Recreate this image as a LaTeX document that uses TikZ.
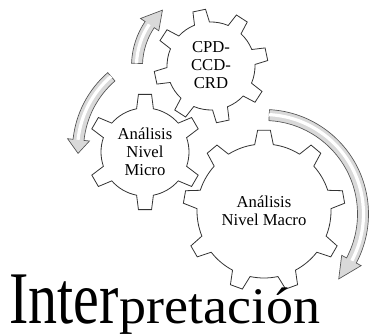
\documentclass[tikz,border=0pt]{standalone}
\usepackage{fontspec}
\setmainfont{Liberation Serif}

\tikzset{
  gearline/.style={draw=black!80,line width=0.6pt,fill=white},
  gearlabel/.style={align=center,font=\fontsize{12.5}{13.5}\selectfont,inner sep=0pt},
  arrowbody/.style={draw=gray!65!black,line width=0.5pt,fill=gray!30},
  arrowshine/.style={white,line width=2.4pt},
  wordart/.style={font=\fontsize{43.5}{44}\selectfont,inner sep=0pt,anchor=base west},
}

% gear: centre, teeth, first tooth angle, tip radius, root radius, tip half angle, root half angle
\newcommand{\drawgear}[7]{%
  \pgfmathsetmacro{\gstep}{360/#2}
  \draw[gearline,shift={#1}] ({#3-#7}:#5)
    \foreach \k in {1,...,#2}{
      -- ({#3+(\k-1)*\gstep-#6}:#4) -- ({#3+(\k-1)*\gstep+#6}:#4)
      -- ({#3+(\k-1)*\gstep+#7}:#5)
      arc[start angle={#3+(\k-1)*\gstep+#7},end angle={#3+\k*\gstep-#7},radius=#5]
    } -- cycle;
}

% bent block arrow: centre, radius, tail angle, head angle, tip angle, half width
\newcommand{\bentarrow}[6]{%
  \draw[arrowbody,shift={#1}] ({#3}:{#2+#6}) arc[start angle=#3,end angle=#4,radius=#2+#6]
    -- ({#4}:{#2+2*#6}) -- ({#5}:#2) -- ({#4}:{#2-2*#6}) -- ({#4}:{#2-#6})
    arc[start angle=#4,end angle=#3,radius=#2-#6] -- cycle;
  \draw[arrowshine,shift={#1}] ({#3}:{#2+0.5}) arc[start angle=#3,end angle=#4,radius=#2+0.5];
}

\begin{document}
\begin{tikzpicture}[x=0.75pt,y=0.75pt]
    \useasboundingbox (0,0) rectangle (371,335);

    % arrows
    \bentarrow{(211,269)}{74}{178}{146}{131}{5.5}
    \bentarrow{(175,185)}{97}{131}{174}{182}{5.5}
    \bentarrow{(264,121)}{99}{87}{-28}{-41}{5.5}

    % gears
    \drawgear{(211,269)}{8}{102}{57}{44}{6.5}{10}
    \drawgear{(145,183)}{6}{90}{58}{44}{6.5}{11}
    \drawgear{(264,124)}{9}{90}{81}{67}{4.5}{8}

    % gear labels
    \node[gearlabel] (cpd) at (211,270) {CPD-\\CCD-\\CRD};
    \node[gearlabel] (micro) at (145,183) {Análisis\\Nivel\\Micro};
    \node[gearlabel] (macro) at (264,124) {Análisis\\Nivel Macro};

    % title
    \node[wordart,yscale=1.28] (inter) at (9,11) {Inter};
    \node[wordart,font=\fontsize{40.5}{41}\selectfont,yscale=0.95] (pretacion) at (inter.base east) {pretación};
\end{tikzpicture}
\end{document}
